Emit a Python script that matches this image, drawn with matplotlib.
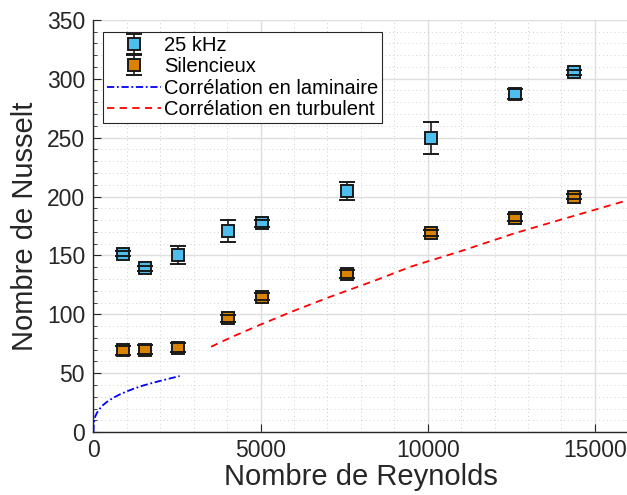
import numpy as np
import matplotlib
matplotlib.use("Agg")
import matplotlib.pyplot as plt
from matplotlib.ticker import MultipleLocator

plt.rcParams["font.family"] = ["Liberation Sans", "DejaVu Sans"]

# ── DATA ──────────────────────────────────────────────────────────────────────

reynolds = [890, 1530, 2520, 4040, 5030, 7580, 10110, 12620, 14380]

nu_25khz  = [151.5, 139.0, 150.5, 170.5, 177.3, 204.7, 249.5, 287.0, 305.5]
err_25khz = [2.0, 2.0, 7.5, 9.5, 3.0, 7.3, 13.5, 4.0, 2.0]

nu_silent  = [69.5, 70.0, 71.8, 96.8, 115.0, 134.2, 169.3, 182.0, 200.0]
err_silent = [4.0, 4.0, 4.0, 3.0, 3.0, 3.0, 2.5, 3.0, 2.5]

re_lam = [0, 10, 30, 60, 100, 180, 280, 420, 580, 780, 980, 1230, 1480, 1730, 1980, 2280, 2580]
nu_lam = [0, 7.5, 10.8, 13.6, 16.1, 19.6, 22.8, 26.0, 28.9, 31.9, 34.4, 37.1, 39.5, 41.5, 43.4, 45.5, 47.6]

re_turb = [3520, 4200, 5000, 6000, 7000, 8500, 9500, 11000, 12600, 14000, 16000]
nu_turb = [72.5, 81.5, 91.3, 103.0, 114.0, 129.5, 140.5, 153.7, 168.8, 180.5, 197.0]

# ── PLOT ──────────────────────────────────────────────────────────────────────

dark = "#262626"
edge = "#1a1a1a"

fig = plt.figure(figsize=(6.27, 4.95), dpi=100)
ax = fig.add_axes([0.149, 0.127, 0.853, 0.833])


def draw_series(y, err, face, label):
    cont = ax.errorbar(reynolds, y, yerr=err, fmt="s", color=edge,
                       ecolor=edge, elinewidth=1.2, capsize=6, capthick=1.3,
                       markersize=8, markerfacecolor=face, markeredgecolor=edge,
                       markeredgewidth=1.4, label=label)
    data_line, caplines, barlines = cont
    data_line.set_zorder(4)
    for c in caplines:
        c.set_zorder(5)
    for b in barlines:
        b.set_zorder(3)
    return cont


h1 = draw_series(nu_25khz, err_25khz, "#4DBEEE", "25 kHz")
h2 = draw_series(nu_silent, err_silent, "#DA8300", "Silencieux")
h3, = ax.plot(re_lam, nu_lam, linestyle=(0, (4, 1.5, 1, 1.5)), color="#0000FF",
              linewidth=1.3, label="Corrélation en laminaire", zorder=3)
h4, = ax.plot(re_turb, nu_turb, linestyle=(0, (4, 3)), color="#FF0000",
              linewidth=1.3, label="Corrélation en turbulent", zorder=3)

ax.set_xlim(0, 16000)
ax.set_ylim(0, 350)
ax.xaxis.set_major_locator(MultipleLocator(5000))
ax.xaxis.set_minor_locator(MultipleLocator(1000))
ax.yaxis.set_major_locator(MultipleLocator(50))
ax.yaxis.set_minor_locator(MultipleLocator(10))

ax.grid(which="major", color="#DEDEDE", linewidth=1.0, linestyle="-")
ax.grid(which="minor", color="#CFCFCF", linewidth=0.7, linestyle=(0, (1, 3)))
ax.set_axisbelow(True)

for side in ["top", "right"]:
    ax.spines[side].set_visible(False)
for side in ["left", "bottom"]:
    ax.spines[side].set_color(dark)
    ax.spines[side].set_linewidth(1.0)

ax.tick_params(which="both", direction="in", colors=dark, labelsize=16.5,
               top=False, right=False)
ax.tick_params(axis="y", which="major", length=6, pad=6)
ax.tick_params(axis="y", which="minor", length=3)
ax.tick_params(axis="x", which="major", length=6, pad=5)
ax.tick_params(axis="x", which="minor", length=0)

ax.set_xlabel("Nombre de Reynolds", fontsize=21, color=dark, labelpad=1)
ax.set_ylabel("Nombre de Nusselt", fontsize=21, color=dark, labelpad=6)

leg = ax.legend([h1, h2, h3, h4],
                ["25 kHz", "Silencieux", "Corrélation en laminaire",
                 "Corrélation en turbulent"],
                loc="upper left", bbox_to_anchor=(0.017, 0.971), fontsize=14.5,
                frameon=True, fancybox=False, framealpha=1, edgecolor=dark,
                handlelength=2.7, handletextpad=0.15, borderpad=0.2,
                labelspacing=0.12, borderaxespad=0)
leg.get_frame().set_linewidth(0.8)

fig.savefig("out.png", dpi=100)
